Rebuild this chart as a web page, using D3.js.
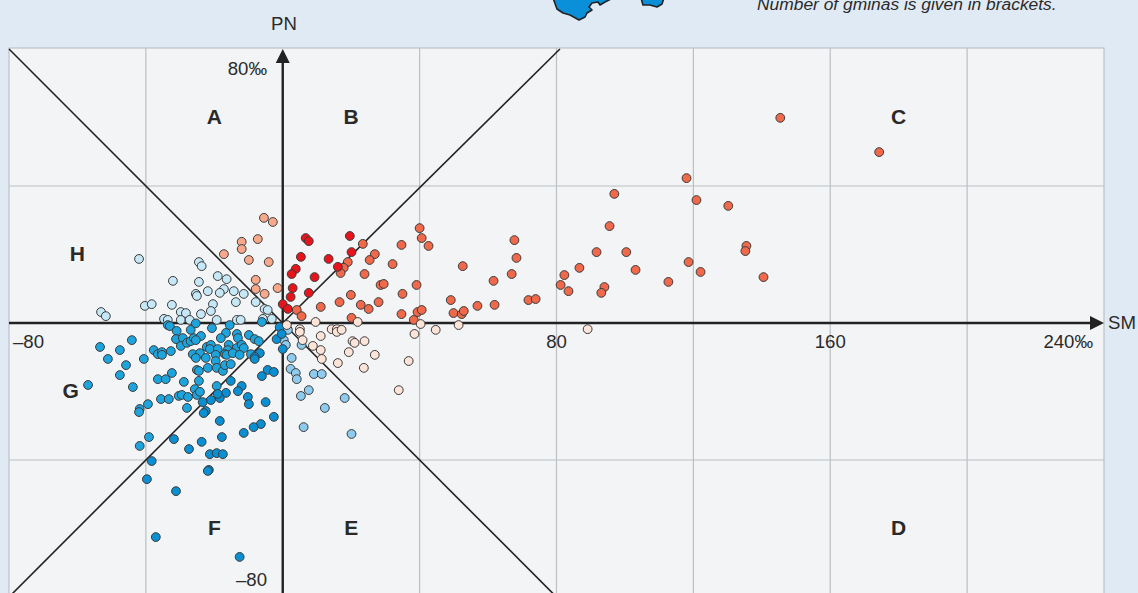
<!DOCTYPE html>
<html><head><meta charset="utf-8">
<script src="https://cdn.jsdelivr.net/npm/d3@7"></script>
<style>html,body{margin:0;padding:0;background:#e0eaf5;overflow:hidden}svg{display:block}text{font-family:"Liberation Sans",Arial,sans-serif;fill:#2b2a29}</style>
</head><body><svg id="c" width="1138" height="593"></svg>
<script>
const typeA=[[-5.5,30.7],[-2.9,29.5],[-12,23.7],[-12,21.6],[-7.3,24.5],[-17.2,20.1],[-9.9,18.4],[-4.1,17.8],[-7.9,12.6],[-7.9,9.9],[-5.3,8.5],[-1.5,10.2]];
const typeB=[[6.7,24.8],[7.6,23.9],[19.6,25.4],[20.1,20.7],[5.3,19.3],[13.4,18.7],[16.1,16.4],[3.8,15.8],[2.6,14.3],[9.3,13.4],[2.9,10.2],[2.3,7.6],[7.6,8.8],[0,5.5],[1.5,4.1]];
const typeC=[[23.4,23.1],[26.9,20.1],[25.4,18.4],[19,17.8],[17.8,16.1],[16.9,14.6],[23.9,14.3],[32.1,17.2],[34.7,22.8],[40,27.7],[40.6,24.8],[42.6,22.5],[52.6,16.6],[28.6,11.1],[29.5,11.4],[39.1,11.1],[35,8.5],[19.9,8.2],[16.6,6.1],[22.8,5.3],[25.1,4.1],[28,6.1],[11.1,4.7],[4.1,3.8],[5.5,2],[20.1,1.5],[34.7,2.6],[38.3,0.9],[39.4,3.2],[40.6,3.8],[49.1,6.7],[49.9,2.9],[52.3,2.6],[52.9,3.5],[61.6,12.3],[66.9,14.3],[67.7,24.2],[68.3,19],[56.9,5],[61.9,5.3],[71.8,6.7],[73.9,7],[81.2,11.1],[82.3,14],[83.5,9.3],[86.7,16.1],[91.7,20.7],[95.5,28.3],[96.9,37.7],[100.4,20.7],[103.1,15.5],[94,10.5],[93.1,8.8],[112.7,12],[118.6,17.8],[122.1,14.9],[118,42.3],[120.9,35.9],[130.2,34.2],[135.5,22.5],[135.2,21],[140.5,13.4],[145.4,59.9],[174.3,49.9]];
const typeD=[[9.6,0.3],[21.9,0.3],[40.3,-0.3],[44.7,-2],[38.5,-3.2],[1.2,-0.6],[5,-1.8],[5,-2.6],[5.8,-5],[14.3,-1.8],[15.8,-1.8],[15.8,-2.6],[17.2,-2],[11.1,-3.8],[20.4,-5.3],[21,-5.8],[23.9,-5.3],[8.8,-6.7],[11.1,-7.9],[19.3,-8.5],[26.9,-9.3],[11.4,-10.5],[16.1,-11.7],[23.7,-13.1],[36.8,-11.1],[33.9,-19.6],[51.4,-0.6],[89.1,-1.8]];
const typeE=[[1.5,-2],[0.3,-5],[0.9,-6.4],[5.5,-6.4],[2.6,-10.2],[2.3,-13.4],[3.8,-14.6],[4.1,-16.4],[9.1,-14.9],[11.4,-14.9],[7.6,-19.6],[5.3,-21.3],[18.1,-21.9],[12.3,-24.8],[6.1,-30.4],[20.1,-32.4]];
const typeF=[[-6.7,-8.8],[-8.2,-9.9],[-8.2,-10.5],[-6.1,-15.5],[-4.4,-13.7],[-2.6,-14.3],[-15.2,-16.9],[-12,-18.4],[-13.1,-19.9],[-16.6,-20.4],[-18.4,-21.9],[-19,-20.7],[-21,-22.5],[-23.4,-23.1],[-10.2,-21.6],[-9.9,-23.7],[-5,-23.1],[-2.6,-27.4],[-6.4,-29.5],[-8.5,-30.4],[-11.4,-32.1],[-18.4,-28.6],[-17.8,-33.3],[-23.7,-34.7],[-31.8,-33.9],[-22.5,-25.7],[-23.1,-26.3],[-27.4,-36.8],[-1.8,-4.7],[0,-7.6],[-0.9,-1.2],[-0.3,-3.2],[-21.3,-38.3],[-19.3,-38],[-17.5,-38.3],[-38.3,-40.3],[-39.7,-45.6],[-31.2,-49.1],[-37.1,-62.5],[-12.6,-68.3],[-21.6,-42.9],[-21.9,-43.2]];
const typeG=[[-53.4,-7],[-47.6,-7.9],[-44.1,-5],[-51.1,-10.5],[-45.8,-12.3],[-47.6,-15.2],[-43.8,-18.7],[-56.9,-18.1],[-40.6,-10.5],[-41.8,-25.1],[-42,-26],[-39.4,-23.7],[-37.7,-7.9],[-36.5,-9.1],[-35.3,-8.5],[-35.3,-9.3],[-32.7,-8.2],[-36.5,-16.4],[-34.2,-16.4],[-32.4,-14.6],[-35.6,-22.2],[-33.3,-22.2],[-30.4,-21.3],[-29.5,-21],[-27.7,-21.6],[-28,-24.8],[-28.9,-17.2],[-25.7,-19.3],[-24.5,-16.9],[-25.1,-21],[-24.2,-20.1],[-33.6,-0.6],[-33,-0.9],[-31,-2.3],[-31.2,-4.7],[-29.2,-4.4],[-29.8,-6.7],[-28,-5.8],[-26.9,-5.3],[-26,-4.4],[-26.9,-2],[-23.9,-3.8],[-25.4,-5],[-25.4,-0.1],[-20.7,-1.5],[-15.5,-0.6],[-16.6,-2.9],[-18.1,-4.4],[-13.4,-3.2],[-13.1,-4.4],[-9.9,-3.5],[-8.2,-4.7],[-7,-5.3],[-6.1,0.3],[-22.2,-7],[-21,-6.4],[-21.3,-7.6],[-19,-7.6],[-15.8,-6.4],[-16.1,-7.9],[-13.4,-7.3],[-12,-6.4],[-11.4,-7.3],[-26.3,-9.1],[-24.2,-8.8],[-25.4,-10.2],[-22.5,-10.2],[-19.6,-9.3],[-19.6,-11.1],[-16.9,-9.1],[-16.4,-9.3],[-14.6,-8.8],[-12.6,-9.3],[-9.3,-9.1],[-25.1,-13.7],[-24.5,-14],[-21.9,-13.1],[-19.3,-13.1],[-17.5,-14],[-16.9,-12.3],[-15.2,-12],[-19.3,-18.4],[-39.1,-33.3],[-41.8,-35.9]];
const typeH=[[-42,18.7],[-24.5,17.8],[-23.7,16.6],[-32.1,12.3],[-24.5,12],[-19,13.7],[-16.4,12.8],[-21.9,9.3],[-17.2,9.9],[-18.4,8.8],[-25.4,8.5],[-25.1,7.9],[-14.3,9.3],[-11.4,8.5],[-20.4,5.5],[-13.7,6.1],[-7.9,6.1],[-5.3,4.1],[-4.4,3.8],[-21,3.5],[-23.9,2.6],[-32.4,5.3],[-40.3,5],[-38.3,5.5],[-53.1,3.2],[-51.7,2],[-34.7,1.2],[-33.6,0.9],[-29.8,3.2],[-28.3,2.9],[-29.8,0.9],[-27.2,0.9],[-19.3,0.9],[-13.4,0.9],[-12.3,0.9],[-5.8,1.2],[-3.2,1.2]];
const xGrid=[-40,0,40,80,120,160,200];
const yGrid=[-40,40];
const xTickLabels=[{v:80,t:"80"},{v:160,t:"160"}];
const sectorLetters=[["A",-20,60],["B",20,60],["C",180,60],["D",180,-60],["E",20,-60],["F",-20,-60],["G",-62,-20],["H",-60,20]];
const diagonals=[[[-80,80],[0,0]],[[0,0],[81,80]],[[-80,-80],[0,0]],[[0,0],[80,-80]]];
const series=[
 {d:typeH,c:"#c6e7f5"},{d:typeA,c:"#f8a98b"},{d:typeC,c:"#f0694a"},{d:typeB,c:"#e8141c"},
 {d:typeE,c:"#8fcbee"},{d:typeG,c:"#1ea4dc"},{d:typeF,c:"#0a8fd2"},{d:typeD,c:"#fde4d8"}];

const x=d3.scaleLinear().domain([-80,240]).range([9,1104]);
const y=d3.scaleLinear().domain([-80,80]).range([597,49]);
const svg=d3.select("#c");
const line=d3.line().x(d=>x(d[0])).y(d=>y(d[1]));

// decorative map fragments above the plot
const g0=svg.append("g").attr("fill","#0a90d8").attr("stroke","#222").attr("stroke-width",1.6).attr("stroke-linejoin","round");
g0.append("path").attr("d","M553,-2L557,9L563,13L570,15L579,20L585,17L587,13L592,10L589,7L592,3L598,2L600,5L605,2L613,-2Z");
g0.append("path").attr("d","M641,-2L643,5L650,5L657,7L662,4L664,-2Z");

svg.append("text").attr("x",757).attr("y",9.5).attr("font-size",17.4).attr("font-style","italic").text("Number of gminas is given in brackets.");

svg.append("rect").attr("x",x(-80)).attr("y",48).attr("width",x(240)-x(-80)).attr("height",560).attr("fill","#f2f4f6").attr("stroke","#b4b7bb").attr("stroke-width",1);

const grid=svg.append("g").attr("stroke","#bcbfc3").attr("stroke-width",1.2);
grid.selectAll(".v").data(xGrid.filter(v=>v!==0)).join("line").attr("x1",x).attr("x2",x).attr("y1",48).attr("y2",593);
grid.selectAll(".h").data(yGrid).join("line").attr("x1",x(-80)).attr("x2",x(240)).attr("y1",y).attr("y2",y);

svg.append("g").selectAll("path").data(diagonals).join("path").attr("d",line).attr("fill","none").attr("stroke","#222").attr("stroke-width",1.6);

// axes
svg.append("line").attr("x1",x(-80)).attr("x2",x(240)-12).attr("y1",y(0)).attr("y2",y(0)).attr("stroke","#222").attr("stroke-width",2.4);
svg.append("line").attr("x1",x(0)).attr("x2",x(0)).attr("y1",62).attr("y2",593).attr("stroke","#222").attr("stroke-width",2.4);
svg.append("path").attr("d",`M${x(0)},49l-7,14h14Z`).attr("fill","#222");
svg.append("path").attr("d",`M${x(240)},${y(0)}l-14,-7v14Z`).attr("fill","#222");

const labels=svg.append("g").attr("font-size",18.6);
labels.selectAll(".xt").data(xTickLabels).join("text").attr("x",d=>x(d.v)).attr("y",348).attr("text-anchor","middle").text(d=>d.t);
labels.append("text").attr("x",13).attr("y",348).text("\u201380");
labels.append("text").attr("x",1093).attr("y",348).attr("text-anchor","end").text("240\u2030");
labels.append("text").attr("x",267).attr("y",75).attr("text-anchor","end").text("80\u2030");
labels.append("text").attr("x",267).attr("y",586).attr("text-anchor","end").text("\u201380");
labels.append("text").attr("x",284).attr("y",30).attr("text-anchor","middle").text("PN");
labels.append("text").attr("x",1108).attr("y",329).text("SM");

svg.append("g").attr("font-size",21).attr("font-weight","bold").attr("text-anchor","middle")
 .selectAll("text").data(sectorLetters).join("text").attr("x",d=>x(d[1])).attr("y",d=>y(d[2])+6).text(d=>d[0]);

series.forEach(s=>{
 svg.append("g").selectAll("circle").data(s.d).join("circle")
  .attr("cx",d=>x(d[0])).attr("cy",d=>y(d[1])).attr("r",4.4)
  .attr("fill",s.c).attr("stroke","#3a3a3a").attr("stroke-width",1);
});
</script></body></html>
